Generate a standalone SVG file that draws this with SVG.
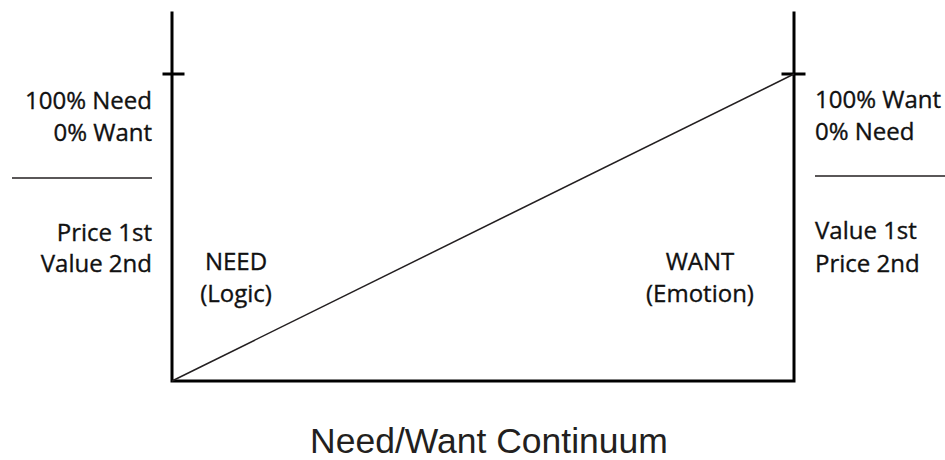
<svg xmlns="http://www.w3.org/2000/svg" width="945" height="460" viewBox="0 0 945 460">
<style>
.t{font-family:"Open Sans","Noto Sans",sans-serif;font-size:24px;fill:#111;stroke:#111;stroke-width:0.35}
.r{text-anchor:end}
.m{text-anchor:middle}
.title{font-family:"Liberation Sans",Arial,sans-serif;font-size:35.5px;fill:#231f20;text-anchor:middle}
.ax{stroke:#000;stroke-width:3;fill:none;stroke-linecap:square}
.thin{stroke:#231f20;stroke-width:1.5;fill:none}
</style>
<rect width="945" height="460" fill="#fff"/>
<g id="connectors">
<path class="ax" d="M172 13 V381 H794 V13"/>
<line class="ax" x1="164" y1="74" x2="183" y2="74"/>
<line class="ax" x1="783" y1="74" x2="804" y2="74"/>
<line class="thin" x1="172" y1="381" x2="794" y2="74"/>
<line class="thin" x1="12" y1="178" x2="152" y2="178"/>
<line class="thin" x1="815" y1="176" x2="945" y2="176"/>
</g>
<g id="left-top"><text class="t r" x="152" y="109">100% Need</text><text class="t r" x="152" y="141">0% Want</text></g>
<g id="left-bottom"><text class="t r" x="152" y="241">Price 1st</text><text class="t r" x="152" y="272">Value 2nd</text></g>
<g id="need"><text class="t m" x="236" y="270">NEED</text><text class="t m" x="236" y="302">(Logic)</text></g>
<g id="want"><text class="t m" x="700" y="270">WANT</text><text class="t m" x="700" y="302">(Emotion)</text></g>
<g id="right-top"><text class="t" x="815" y="108">100% Want</text><text class="t" x="815" y="140">0% Need</text></g>
<g id="right-bottom"><text class="t" x="815" y="239">Value 1st</text><text class="t" x="815" y="272">Price 2nd</text></g>
<g id="title"><text class="title" x="489" y="453">Need/Want Continuum</text></g>
</svg>
